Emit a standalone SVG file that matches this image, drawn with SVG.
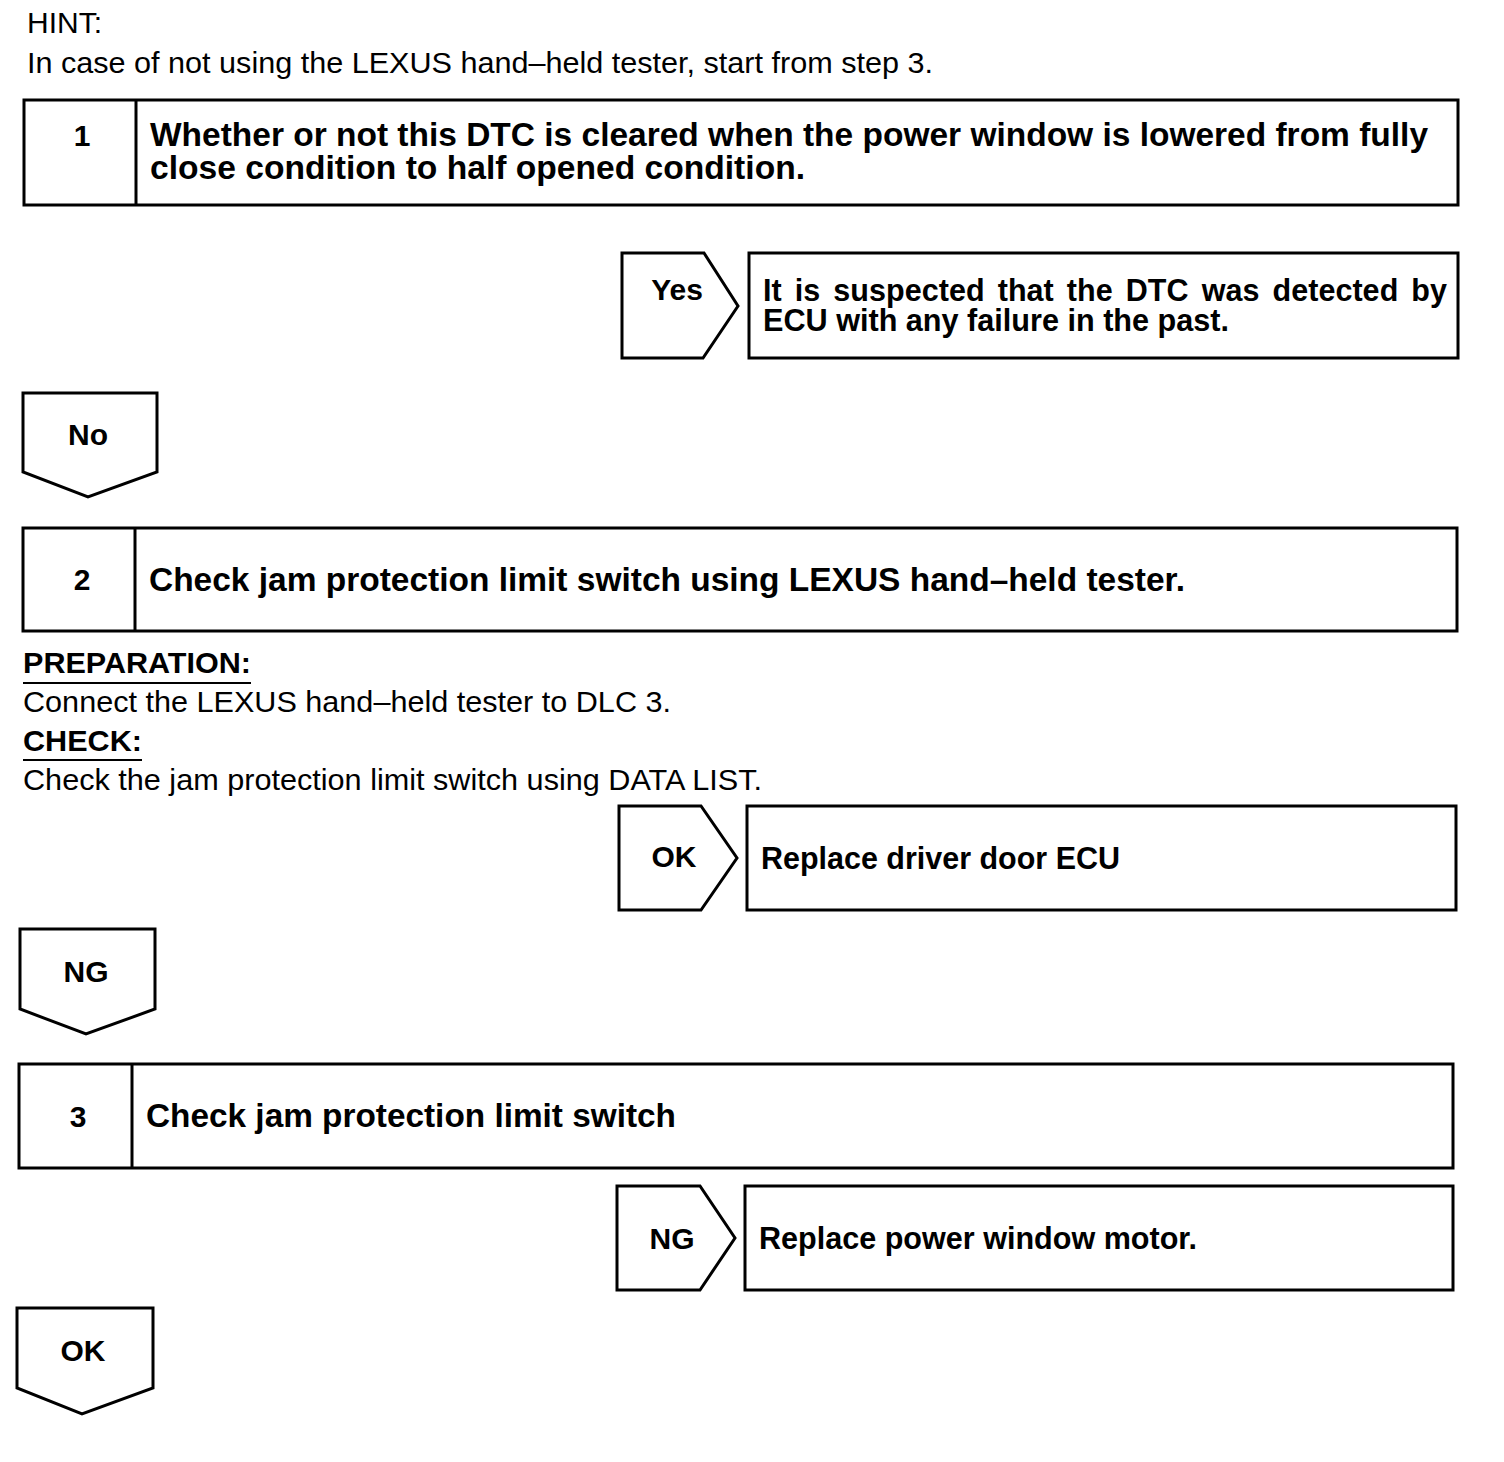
<svg xmlns="http://www.w3.org/2000/svg" width="1504" height="1462" viewBox="0 0 1504 1462">
<style>
.box{fill:#fff;stroke:#000;stroke-width:3}
.ln{stroke:#000;stroke-width:3;fill:none}
.num{font-family:"Liberation Sans",Arial,sans-serif;font-weight:bold;font-size:30px;text-anchor:middle}
.ttl{font-family:"Liberation Sans",Arial,sans-serif;font-weight:bold;font-size:33px}
.res{font-family:"Liberation Sans",Arial,sans-serif;font-weight:bold;font-size:30.5px}
.lbl{font-family:"Liberation Sans",Arial,sans-serif;font-weight:bold;font-size:30px;text-anchor:middle}
.reg{font-family:"Liberation Sans",Arial,sans-serif;font-size:30px}
.hd{font-family:"Liberation Sans",Arial,sans-serif;font-weight:bold;font-size:30px}
</style>
<rect width="1504" height="1462" fill="#fff"/>

<g id="hint">
<text class="reg" x="27" y="33">HINT:</text>
<text class="reg" x="27" y="73" textLength="906" lengthAdjust="spacingAndGlyphs">In case of not using the LEXUS hand–held tester, start from step 3.</text>
</g>

<g id="step1">
<rect class="box" x="24" y="100" width="1434" height="105"/>
<line class="ln" x1="136" y1="100" x2="136" y2="205"/>
<text class="num" x="82" y="146">1</text>
<text class="ttl" x="150" y="146" textLength="1278" lengthAdjust="spacingAndGlyphs">Whether or not this DTC is cleared when the power window is lowered from fully</text>
<text class="ttl" x="150" y="179" textLength="655" lengthAdjust="spacingAndGlyphs">close condition to half opened condition.</text>
</g>

<g id="connectors">
<g id="yes">
<polygon class="box" points="622,253 704,253 738,306 703,358 622,358"/>
<text class="lbl" x="677" y="300">Yes</text>
</g>
<g id="no">
<polygon class="box" points="23,393 157,393 157,472 88,497 23,472"/>
<text class="lbl" x="88" y="445">No</text>
</g>
<g id="ok1">
<polygon class="box" points="619,806 701,806 737,858 701,910 619,910"/>
<text class="lbl" x="674" y="867">OK</text>
</g>
<g id="ng1">
<polygon class="box" points="20,929 155,929 155,1009 86,1034 20,1009"/>
<text class="lbl" x="86" y="982">NG</text>
</g>
<g id="ng2">
<polygon class="box" points="617,1186 700,1186 735,1238 700,1290 617,1290"/>
<text class="lbl" x="672" y="1249">NG</text>
</g>
<g id="ok2">
<polygon class="box" points="17,1308 153,1308 153,1388 82,1414 17,1388"/>
<text class="lbl" x="83" y="1361">OK</text>
</g>
</g>

<g id="result1">
<rect class="box" x="749" y="253" width="709" height="105"/>
<text class="res" x="763" y="301" textLength="684" lengthAdjust="spacing" word-spacing="4.5">It is suspected that the DTC was detected by</text>
<text class="res" x="763" y="331" textLength="466" lengthAdjust="spacingAndGlyphs">ECU with any failure in the past.</text>
</g>

<g id="step2">
<rect class="box" x="23" y="528" width="1434" height="103"/>
<line class="ln" x1="135" y1="528" x2="135" y2="631"/>
<text class="num" x="82" y="590">2</text>
<text class="ttl" x="149" y="591" textLength="1036" lengthAdjust="spacingAndGlyphs">Check jam protection limit switch using LEXUS hand–held tester.</text>
</g>

<g id="notes">
<text class="hd" x="23" y="673" textLength="228" lengthAdjust="spacingAndGlyphs">PREPARATION:</text>
<line x1="23" y1="683" x2="251" y2="683" stroke="#000" stroke-width="2"/>
<text class="reg" x="23" y="712" textLength="648" lengthAdjust="spacingAndGlyphs">Connect the LEXUS hand–held tester to DLC 3.</text>
<text class="hd" x="23" y="751" textLength="119" lengthAdjust="spacingAndGlyphs">CHECK:</text>
<line x1="23" y1="760" x2="142" y2="760" stroke="#000" stroke-width="2"/>
<text class="reg" x="23" y="790" textLength="739" lengthAdjust="spacingAndGlyphs">Check the jam protection limit switch using DATA LIST.</text>
</g>

<g id="result2">
<rect class="box" x="747" y="806" width="709" height="104"/>
<text class="res" x="761" y="869" textLength="359" lengthAdjust="spacingAndGlyphs">Replace driver door ECU</text>
</g>

<g id="step3">
<rect class="box" x="19" y="1064" width="1434" height="104"/>
<line class="ln" x1="132" y1="1064" x2="132" y2="1168"/>
<text class="num" x="78" y="1127">3</text>
<text class="ttl" x="146" y="1127" textLength="530" lengthAdjust="spacingAndGlyphs">Check jam protection limit switch</text>
</g>

<g id="result3">
<rect class="box" x="745" y="1186" width="708" height="104"/>
<text class="res" x="759" y="1249" textLength="438" lengthAdjust="spacingAndGlyphs">Replace power window motor.</text>
</g>
</svg>
